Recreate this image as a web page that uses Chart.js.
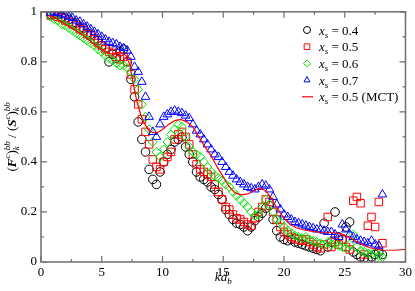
<!DOCTYPE html>
<html>
<head>
    <title>F/S ratio vs kd</title>
    <script src="https://cdn.jsdelivr.net/npm/chart.js"></script>
    <style>
        body { margin: 0; background: #ffffff; }
        #wrap { width: 415px; height: 291px; position: relative; }
    </style>
</head>
<body>
<div id="wrap"><canvas id="myChart"></canvas></div>
<script>
// kd_b values where the simulation points are sampled
var kd = [0.8, 1.1, 1.4, 1.7, 2.0, 2.3, 2.6, 2.9, 3.2, 3.5,
          3.8, 4.1, 4.4, 4.7, 5.0, 5.3, 5.6, 5.9, 6.2, 6.5,
          6.8, 7.1, 7.4, 7.7, 8.0, 8.3, 8.6, 8.9, 9.2, 9.5,
          9.8, 10.1, 10.4, 10.7, 11.0, 11.3, 11.6, 11.9, 12.2, 12.5,
          12.8, 13.1, 13.4, 13.7, 14.0, 14.3, 14.6, 14.9, 15.2, 15.5,
          15.8, 16.1, 16.4, 16.7, 17.0, 17.3, 17.6, 17.9, 18.2, 18.5,
          18.8, 19.1, 19.4, 19.7, 20.0, 20.3, 20.6, 20.9, 21.2, 21.5,
          21.8, 22.1, 22.4, 22.7, 23.0, 23.3, 23.6, 23.9, 24.2, 24.5,
          24.8, 25.1, 25.4, 25.7, 26.0, 26.3, 26.6, 26.9, 27.2, 27.5,
          27.8, 28.1];

var xs04 = [0.99, 0.995, 0.99, 0.98, 0.975, 0.97, 0.955, 0.955, 0.935, 0.935,
            0.915, 0.91, 0.89, 0.885, 0.865, 0.855, 0.80, 0.83, 0.815, 0.84,
            0.85, 0.80, 0.73, 0.66, 0.56, 0.49, 0.44, 0.37, 0.33, 0.31,
            0.36, 0.40, 0.43, 0.45, 0.48, 0.49, 0.50, 0.46, 0.43, 0.40,
            0.36, 0.34, 0.33, 0.32, 0.30, 0.29, 0.27, 0.25, 0.21, 0.19,
            0.17, 0.155, 0.15, 0.14, 0.125, 0.14, 0.165, 0.18, 0.195, 0.215,
            0.225, 0.17, 0.125, 0.10, 0.09, 0.085, 0.09, 0.08, 0.075, 0.07,
            0.065, 0.06, 0.055, 0.05, 0.045, 0.155, 0.06, 0.08, 0.20, 0.10,
            0.09, 0.14, 0.16, 0.04, 0.03, 0.02, 0.015, 0.01, 0.02, 0.03,
            0.04, 0.03];

var xs05 = [0.985, 0.99, 0.98, 0.975, 0.965, 0.96, 0.95, 0.945, 0.93, 0.925,
            0.91, 0.905, 0.89, 0.875, 0.865, 0.85, 0.84, 0.835, 0.82, 0.81,
            0.82, 0.80, 0.75, 0.69, 0.63, 0.57, 0.52, 0.47, 0.41, 0.38,
            0.37, 0.40, 0.42, 0.44, 0.49, 0.51, 0.52, 0.50, 0.47, 0.43,
            0.39, 0.37, 0.36, 0.35, 0.34, 0.31, 0.28, 0.25, 0.22, 0.21,
            0.19, 0.175, 0.17, 0.16, 0.15, 0.145, 0.175, 0.20, 0.22, 0.25,
            0.24, 0.20, 0.17, 0.14, 0.12, 0.11, 0.10, 0.095, 0.09, 0.085,
            0.09, 0.08, 0.07, 0.06, 0.055, 0.07, 0.18, 0.06, 0.08, 0.07,
            0.09, 0.06, 0.05, 0.245, 0.26, 0.235, 0.03, 0.145, 0.18, 0.14,
            0.24, 0.075];

var xs06 = [0.98, 0.97, 0.965, 0.95, 0.945, 0.935, 0.925, 0.915, 0.905, 0.895,
            0.885, 0.875, 0.865, 0.85, 0.84, 0.825, 0.815, 0.805, 0.795, 0.785,
            0.785, 0.775, 0.76, 0.73, 0.69, 0.63, 0.58, 0.53, 0.48, 0.44,
            0.42, 0.45, 0.48, 0.51, 0.53, 0.55, 0.54, 0.50, 0.46, 0.44,
            0.43, 0.42, 0.40, 0.38, 0.36, 0.345, 0.335, 0.325, 0.31, 0.30,
            0.28, 0.265, 0.25, 0.235, 0.22, 0.20, 0.185, 0.19, 0.22, 0.25,
            0.23, 0.20, 0.17, 0.16, 0.14, 0.125, 0.115, 0.105, 0.10, 0.095,
            0.10, 0.09, 0.085, 0.08, 0.075, 0.07, 0.08, 0.07, 0.075, 0.065,
            0.06, 0.055, 0.07, 0.11, 0.06, 0.045, 0.04, 0.035, 0.03, 0.04,
            0.025, 0.02];

var xs07 = [0.995, 1.0, 0.995, 0.99, 0.985, 0.98, 0.975, 0.965, 0.96, 0.95,
            0.94, 0.93, 0.92, 0.91, 0.9, 0.89, 0.88, 0.875, 0.87, 0.86,
            0.855, 0.845, 0.82, 0.78, 0.76, 0.72, 0.66, 0.58, 0.52, 0.50,
            0.55, 0.58, 0.59, 0.60, 0.605, 0.60, 0.595, 0.585, 0.575, 0.55,
            0.525, 0.51, 0.49, 0.47, 0.45, 0.43, 0.42, 0.40, 0.38, 0.36,
            0.345, 0.33, 0.32, 0.31, 0.30, 0.295, 0.29, 0.30, 0.31, 0.305,
            0.29, 0.26, 0.23, 0.21, 0.19, 0.18, 0.17, 0.16, 0.155, 0.15,
            0.145, 0.14, 0.135, 0.13, 0.13, 0.125, 0.12, 0.12, 0.11, 0.10,
            0.15, 0.13, 0.11, 0.10, 0.09, 0.085, 0.08, 0.075, 0.085, 0.07,
            0.065, 0.27];

// MCT theory curve for xs = 0.5
var mctK = [0.6, 1.0, 1.5, 2.0, 2.5, 3.0, 3.5, 4.0, 4.5, 5.0,
            5.5, 6.0, 6.5, 7.0, 7.3, 7.6, 7.9, 8.2, 8.5, 8.8,
            9.2, 9.6, 10.0, 10.5, 11.0, 11.5, 12.0, 12.5, 13.0, 13.5,
            14.0, 14.5, 15.0, 15.5, 16.0, 16.5, 17.0, 17.5, 18.0, 18.5,
            19.0, 19.5, 20.0, 20.5, 21.0, 21.5, 22.0, 23.0, 24.0, 24.5,
            25.0, 25.5, 26.0, 26.5, 27.0, 27.5, 28.0, 29.0, 30.0];
var mctF = [0.985, 0.98, 0.965, 0.95, 0.935, 0.92, 0.905, 0.885, 0.865, 0.85,
            0.835, 0.83, 0.84, 0.825, 0.79, 0.71, 0.64, 0.59, 0.555, 0.53,
            0.517, 0.518, 0.53, 0.55, 0.565, 0.57, 0.56, 0.54, 0.50, 0.46,
            0.425, 0.38, 0.34, 0.30, 0.275, 0.268, 0.272, 0.285, 0.295, 0.285,
            0.25, 0.21, 0.175, 0.15, 0.137, 0.13, 0.125, 0.118, 0.117, 0.115,
            0.108, 0.095, 0.08, 0.068, 0.058, 0.052, 0.048, 0.047, 0.05];

var xTicks = [0, 5, 10, 15, 20, 25, 30];
var yTicks = [0, 0.2, 0.4, 0.6, 0.8, 1];

var seriesNames = ['0.4', '0.5', '0.6', '0.7', '0.5 (MCT)'];
var seriesColors = ['#000000', '#ff0000', '#00e600', '#0000ff', '#ff0000'];
var seriesShapes = ['circle', 'rect', 'rectRot', 'triangle', 'line'];

function pts(xv, yv) {
    return xv.map(function (x, i) { return { x: x, y: yv[i] }; });
}

var serif = "'Liberation Serif', 'Times New Roman', serif";
Chart.defaults.font.family = serif;

function richWidth(ctx, parts) {
    var w = 0, stackW = 0;
    parts.forEach(function (p) {
        ctx.font = p.f;
        var pw = ctx.measureText(p.t).width;
        if (p.stack) { stackW = pw; } else { w += Math.max(pw, stackW); stackW = 0; }
    });
    return w;
}
// draw text pieces (italic, sub/superscripts) one after another on a baseline
function drawRich(ctx, parts, x, y) {
    var cx = x, stackW = 0;
    parts.forEach(function (p) {
        ctx.font = p.f;
        var pw = ctx.measureText(p.t).width;
        ctx.fillText(p.t, cx, y + (p.dy || 0));
        if (p.stack) {
            stackW = pw;
        } else {
            cx += Math.max(pw, stackW);
            stackW = 0;
        }
    });
    return cx - x;
}

var it = 'italic 13px ' + serif;
var rm = '13px ' + serif;
var itSmall = 'italic 9px ' + serif;

var decor = {
    id: 'decor',
    afterDraw: function (chart) {
        var ctx = chart.ctx;
        var a = chart.chartArea;
        var xs = chart.scales.x, ys = chart.scales.y;
        ctx.save();

        // frame
        ctx.strokeStyle = '#6e6e6e';
        ctx.lineWidth = 1.5;
        ctx.strokeRect(a.left, a.top, a.right - a.left, a.bottom - a.top);

        // tick marks on all four sides, pointing inward
        ctx.lineWidth = 1.2;
        ctx.beginPath();
        for (var v = 0; v <= 30.001; v += 2.5) {
            var px = xs.getPixelForValue(v);
            var len = (Math.abs(v % 5) < 0.01) ? 6 : 3;
            ctx.moveTo(px, a.bottom); ctx.lineTo(px, a.bottom - len);
            ctx.moveTo(px, a.top); ctx.lineTo(px, a.top + len);
        }
        for (var k = 0; k <= 10; k++) {
            var py = ys.getPixelForValue(k / 10);
            var l2 = (k % 2 === 0) ? 6 : 3;
            ctx.moveTo(a.left, py); ctx.lineTo(a.left + l2, py);
            ctx.moveTo(a.right, py); ctx.lineTo(a.right - l2, py);
        }
        ctx.stroke();

        ctx.fillStyle = '#000000';
        ctx.textBaseline = 'alphabetic';
        ctx.textAlign = 'left';

        // x axis title kd_b
        var xt = [
            { t: 'kd', f: it },
            { t: 'b', f: itSmall, dy: 3 }
        ];
        var xw = richWidth(ctx, xt);
        drawRich(ctx, xt, (a.left + a.right) / 2 - xw / 2, 281);

        // y axis title (F^c)_k^bb / (S^c)_k^bb
        var yt = [
            { t: '(', f: rm },
            { t: 'F', f: 'bold italic 13px ' + serif },
            { t: 'c', f: itSmall, dy: -6 },
            { t: ')', f: rm },
            { t: 'k', f: itSmall, dy: 3, stack: true },
            { t: 'bb', f: itSmall, dy: -6 },
            { t: ' / (', f: rm },
            { t: 'S', f: 'bold italic 13px ' + serif },
            { t: 'c', f: itSmall, dy: -6 },
            { t: ')', f: rm },
            { t: 'k', f: itSmall, dy: 3, stack: true },
            { t: 'bb', f: itSmall, dy: -6 }
        ];
        var yw = richWidth(ctx, yt);
        ctx.save();
        ctx.translate(16, (a.top + a.bottom) / 2 + yw / 2);
        ctx.rotate(-Math.PI / 2);
        drawRich(ctx, yt, 0, 0);
        ctx.restore();

        // legend
        var lx = 307, ly0 = 30, dy = 16.7;
        for (var i = 0; i < seriesNames.length; i++) {
            var ly = ly0 + i * dy;
            ctx.strokeStyle = seriesColors[i];
            ctx.fillStyle = 'rgba(0,0,0,0)';
            ctx.lineWidth = 1;
            var shape = seriesShapes[i];
            if (shape === 'line') {
                ctx.lineWidth = 1.2;
                ctx.beginPath();
                ctx.moveTo(lx - 5, ly); ctx.lineTo(lx + 6, ly);
                ctx.stroke();
            } else {
                Chart.helpers.drawPoint(ctx, { pointStyle: shape, radius: shape === 'rect' ? 4 : 3.5, borderWidth: 1 }, lx, ly);
            }
            ctx.fillStyle = '#000000';
            drawRich(ctx, [
                { t: 'x', f: it },
                { t: 's', f: itSmall, dy: 3 },
                { t: ' = ' + seriesNames[i], f: rm }
            ], 319, ly + 4.5);
        }
        ctx.restore();
    }
};

var ctx = document.getElementById('myChart').getContext('2d');
var myChart = new Chart(ctx, {
    type: 'scatter',
    data: {
        datasets: [{
            label: 'xs = 0.5 (MCT)',
            data: pts(mctK, mctF),
            showLine: true,
            borderColor: seriesColors[4],
            borderWidth: 1.2,
            pointRadius: 0,
            fill: false,
            order: 0
        }, {
            label: 'xs = 0.7',
            data: pts(kd, xs07),
            pointStyle: 'triangle',
            pointRadius: 5,
            borderColor: seriesColors[3],
            backgroundColor: 'rgba(0,0,0,0)',
            pointBorderWidth: 1,
            order: 1
        }, {
            label: 'xs = 0.6',
            data: pts(kd, xs06),
            pointStyle: 'rectRot',
            pointRadius: 4.5,
            borderColor: seriesColors[2],
            backgroundColor: 'rgba(0,0,0,0)',
            pointBorderWidth: 1,
            order: 2
        }, {
            label: 'xs = 0.5',
            data: pts(kd, xs05),
            pointStyle: 'rect',
            pointRadius: 5.3,
            borderColor: seriesColors[1],
            backgroundColor: 'rgba(0,0,0,0)',
            pointBorderWidth: 1,
            order: 3
        }, {
            label: 'xs = 0.4',
            data: pts(kd, xs04),
            pointStyle: 'circle',
            pointRadius: 4.3,
            borderColor: seriesColors[0],
            backgroundColor: 'rgba(0,0,0,0)',
            pointBorderWidth: 1,
            order: 4
        }]
    },
    options: {
        responsive: true,
        maintainAspectRatio: false,
        animation: false,
        layout: { padding: { left: 0, top: 5, right: 8, bottom: 0 } },
        plugins: { legend: { display: false }, tooltip: { enabled: false } },
        scales: {
            x: {
                type: 'linear',
                min: 0,
                max: 30,
                afterFit: function (s) { s.height = 29; },
                afterBuildTicks: function (s) { s.ticks = xTicks.map(function (v) { return { value: v }; }); },
                grid: { display: false, drawTicks: false },
                border: { display: false },
                ticks: { color: '#000', padding: 3, maxRotation: 0, font: { family: serif, size: 13 } }
            },
            y: {
                min: 0,
                max: 1,
                afterFit: function (s) { s.width = 41; },
                afterBuildTicks: function (s) { s.ticks = yTicks.map(function (v) { return { value: v }; }); },
                grid: { display: false, drawTicks: false },
                border: { display: false },
                ticks: {
                    color: '#000',
                    padding: 4,
                    font: { family: serif, size: 13 },
                    callback: function (v) { return (v === 0 || v === 1) ? String(v) : v.toFixed(1); }
                }
            }
        }
    },
    plugins: [decor]
});
</script>
</body>
</html>
